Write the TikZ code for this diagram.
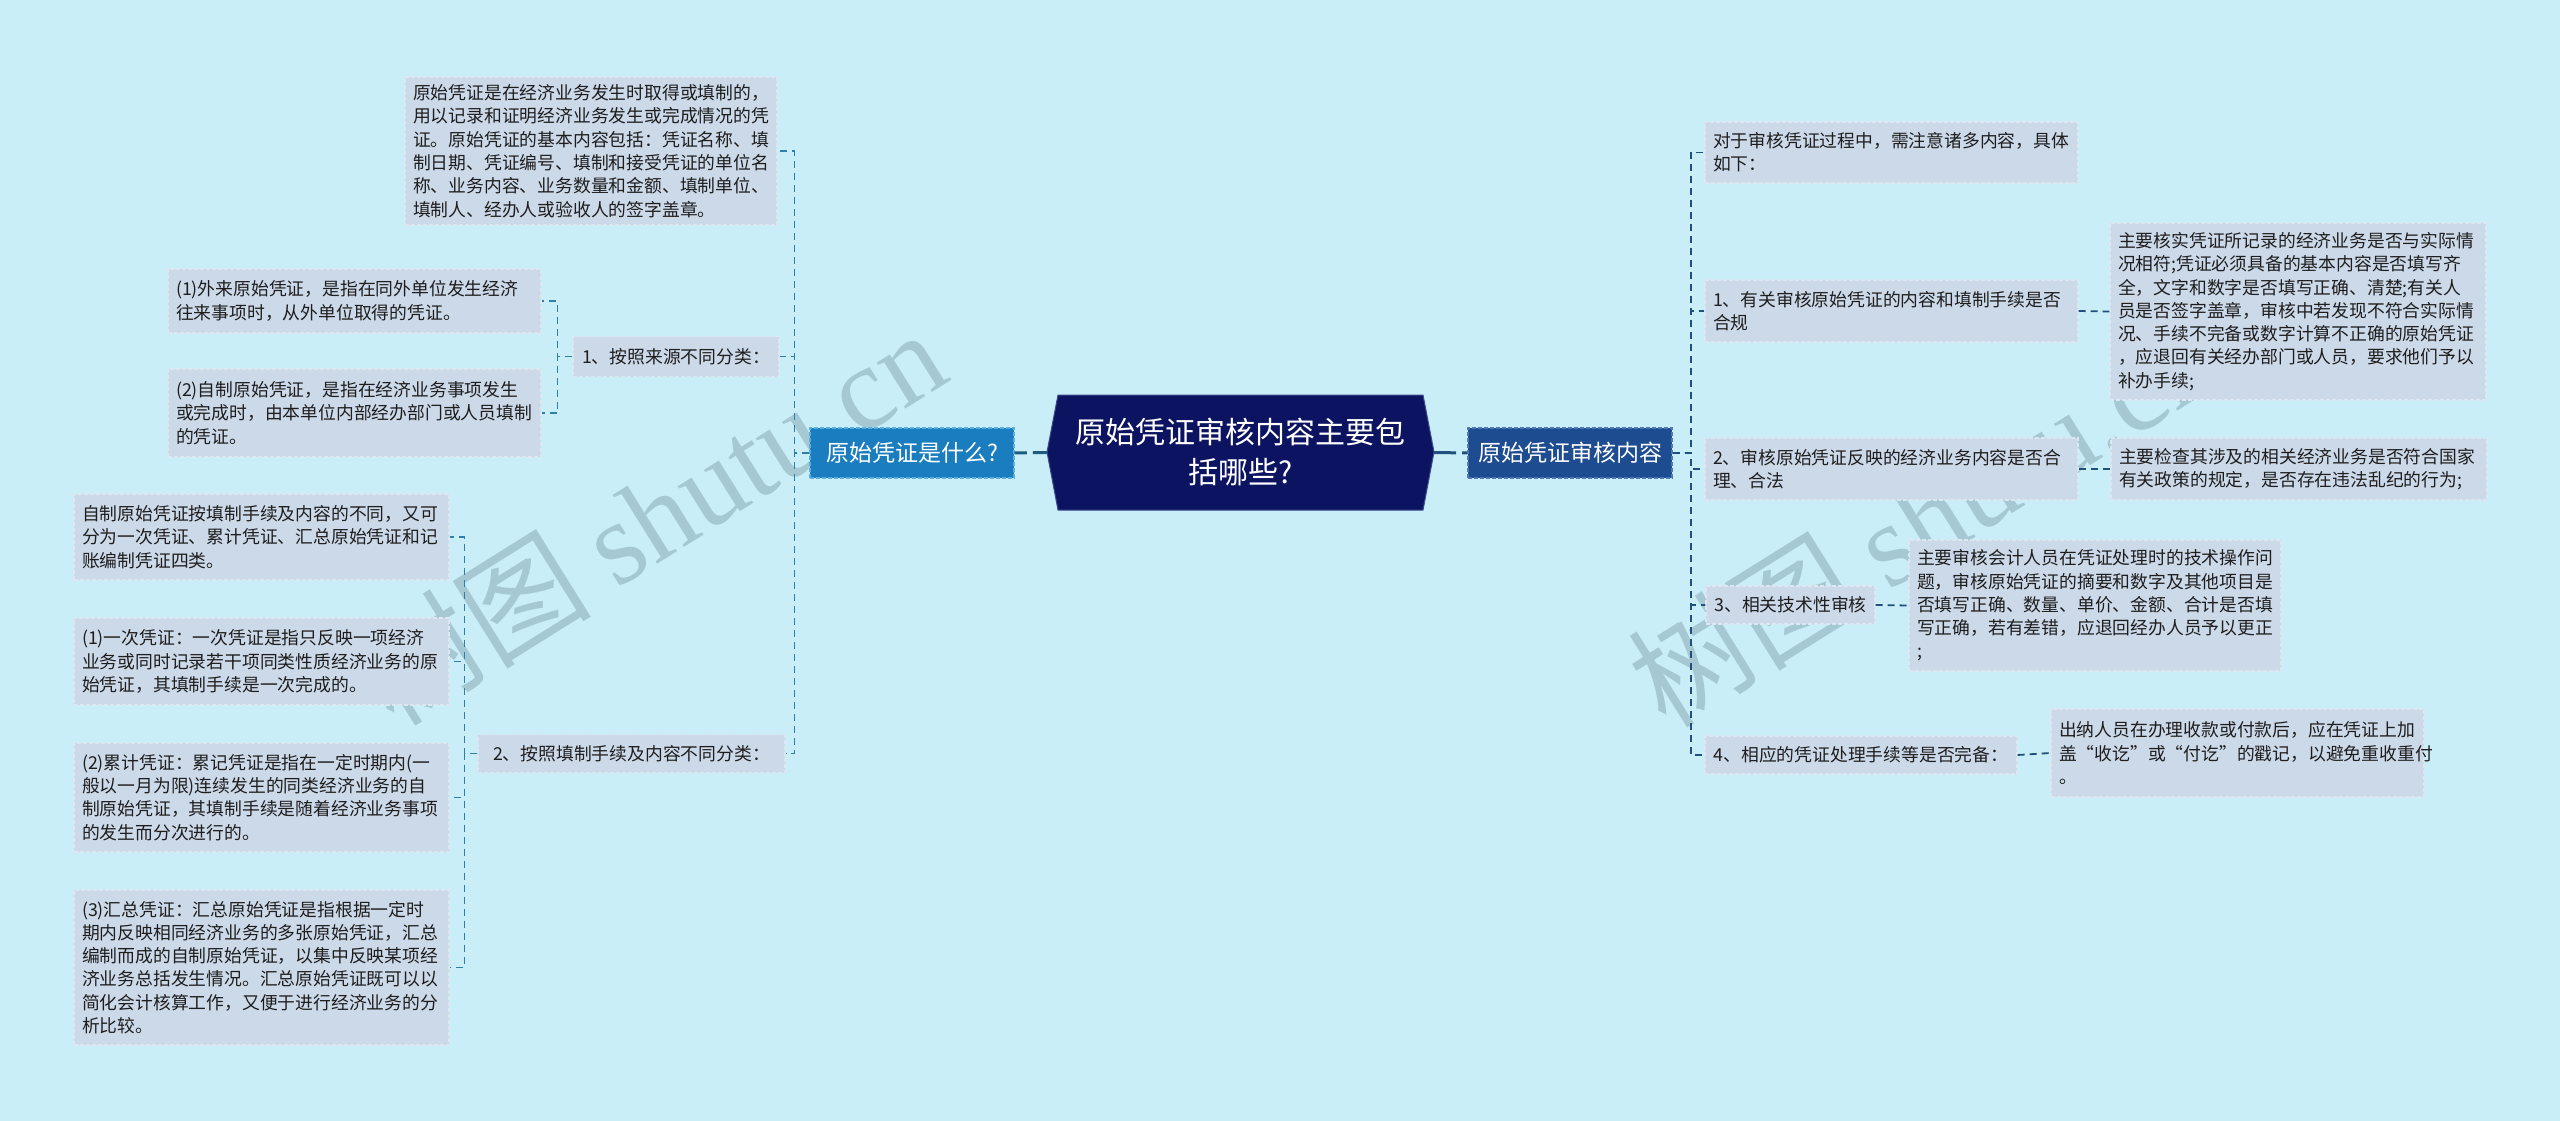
\documentclass[tikz,border=0pt]{standalone}
\usepackage{fontspec}
\setmainfont{Noto Sans CJK SC}
\newfontfamily\wmlatin{Liberation Serif}
\definecolor{bgc}{HTML}{C9EEF7}
\definecolor{leaffill}{HTML}{CCD9E9}
\definecolor{leafdraw}{HTML}{DDE6F1}
\definecolor{centerfill}{HTML}{0C1461}
\definecolor{centerdraw}{HTML}{3B4B8C}
\definecolor{lmainfill}{HTML}{1A7DBF}
\definecolor{lmaindraw}{HTML}{5AAEE0}
\definecolor{rmainfill}{HTML}{1E4C91}
\definecolor{rmaindraw}{HTML}{4F78B5}
\definecolor{lline}{HTML}{2F7FA6}
\definecolor{rline}{HTML}{234F7C}
\definecolor{cline}{HTML}{1F5B7E}
\definecolor{txt}{HTML}{1E1E1E}
\definecolor{wm}{HTML}{6F8C96}
\begin{document}
\begin{tikzpicture}[x=1pt,y=-1pt,
  leafbox/.style={fill=leaffill, draw=leafdraw, dash pattern=on 4pt off 2pt, line width=1.2pt,
    inner sep=0pt, align=left, text=txt, font=\fontsize{17.8}{23.3}\selectfont},
  sz/.style n args={3}{minimum width=#1pt, minimum height=#2pt, text width=#3pt},
  lab/.style n args={2}{minimum width=#1pt, minimum height=#2pt},
  mainL/.style={fill=lmainfill, draw=lmaindraw, dash pattern=on 4pt off 2pt, line width=1.2pt,
    minimum width=204pt, minimum height=50pt, inner sep=0pt, text=white, font=\fontsize{23}{28}\selectfont},
  mainR/.style={fill=rmainfill, draw=rmaindraw, dash pattern=on 4pt off 2pt, line width=1.2pt,
    minimum width=204pt, minimum height=50pt, inner sep=0pt, text=white, font=\fontsize{23}{28}\selectfont},
  lconn/.style={draw=lline, line width=1.8pt, dash pattern=on 7pt off 5pt},
  rconn/.style={draw=rline, line width=1.8pt, dash pattern=on 7pt off 5pt},
  cconnL/.style={draw=cline, line width=3pt, dash pattern=on 14pt off 6pt},
  cconnR/.style={draw=rline, line width=3pt, dash pattern=on 22pt off 6pt},
  wmark/.style={text=wm, opacity=0.38, rotate=32, inner sep=0pt}
]
\useasboundingbox (0,0) rectangle (2560,1121);
\fill[bgc] (0,0) rectangle (2560,1121);

% watermarks
\node[wmark] (wm1) at (650,516) {\fontsize{118}{118}\selectfont 树图 \wmlatin shutu.cn};
\node[wmark] (wm2) at (1922,518) {\fontsize{118}{118}\selectfont 树图 \wmlatin shutu.cn};

% centre
\fill[centerfill, draw=centerdraw, line width=1pt] (1047,452) -- (1058,395) -- (1423,395) -- (1434,452) -- (1423,510) -- (1058,510) -- cycle;
\node[font=\fontsize{30}{40}\selectfont, text=white, align=center, minimum width=387pt, minimum height=115pt, inner sep=0pt] (c) at (1240.5,452.5) {原始凭证审核内容主要包\\括哪些?};

\node[mainL] (L) at (912,453) {原始凭证是什么?};
\node[mainR] (R) at (1570,453) {原始凭证审核内容};

% left tree
\node[leafbox, sz={372}{148}{356}] (t1) at (591,151) {原始凭证是在经济业务发生时取得或填制的，\\用以记录和证明经济业务发生或完成情况的凭\\证。原始凭证的基本内容包括：凭证名称、填\\制日期、凭证编号、填制和接受凭证的单位名\\称、业务内容、业务数量和金额、填制单位、\\填制人、经办人或验收人的签字盖章。};
\node[leafbox, lab={206}{40}] (l1) at (676,356.5) {1、按照来源不同分类：};
\node[leafbox, sz={373}{64}{357}] (l1a) at (354.5,301) {(1)外来原始凭证，是指在同外单位发生经济\\往来事项时，从外单位取得的凭证。};
\node[leafbox, sz={373}{88}{357}] (l1b) at (354.5,413) {(2)自制原始凭证，是指在经济业务事项发生\\或完成时，由本单位内部经办部门或人员填制\\的凭证。};
\node[leafbox, lab={307}{38}] (l2) at (631.5,753.5) {2、按照填制手续及内容不同分类：};
\node[leafbox, sz={375}{86}{359}] (l2a) at (261.5,537) {自制原始凭证按填制手续及内容的不同，又可\\分为一次凭证、累计凭证、汇总原始凭证和记\\账编制凭证四类。};
\node[leafbox, sz={375}{87}{359}] (l2b) at (261.5,661.5) {(1)一次凭证：一次凭证是指只反映一项经济\\业务或同时记录若干项同类性质经济业务的原\\始凭证，其填制手续是一次完成的。};
\node[leafbox, sz={375}{109}{359}] (l2c) at (261.5,797.5) {(2)累计凭证：累记凭证是指在一定时期内(一\\般以一月为限)连续发生的同类经济业务的自\\制原始凭证，其填制手续是随着经济业务事项\\的发生而分次进行的。};
\node[leafbox, sz={375}{155}{359}] (l2d) at (261.5,967.5) {(3)汇总凭证：汇总原始凭证是指根据一定时\\期内反映相同经济业务的多张原始凭证，汇总\\编制而成的自制原始凭证，以集中反映某项经\\济业务总括发生情况。汇总原始凭证既可以以\\简化会计核算工作，又便于进行经济业务的分\\析比较。};

% right tree
\node[leafbox, sz={373}{61}{357}] (r0) at (1891.5,152.5) {对于审核凭证过程中，需注意诸多内容，具体\\如下：};
\node[leafbox, sz={373}{62}{357}] (r1) at (1891.5,311) {1、有关审核原始凭证的内容和填制手续是否\\合规};
\node[leafbox, sz={376}{177}{360}] (r1c) at (2298,311.5) {主要核实凭证所记录的经济业务是否与实际情\\况相符;凭证必须具备的基本内容是否填写齐\\全，文字和数字是否填写正确、清楚;有关人\\员是否签字盖章，审核中若发现不符合实际情\\况、手续不完备或数字计算不正确的原始凭证\\，应退回有关经办部门或人员，要求他们予以\\补办手续;};
\node[leafbox, sz={373}{62}{357}] (r2) at (1891.5,469) {2、审核原始凭证反映的经济业务内容是否合\\理、合法};
\node[leafbox, sz={376}{62}{360}] (r2c) at (2299,469) {主要检查其涉及的相关经济业务是否符合国家\\有关政策的规定，是否存在违法乱纪的行为;};
\node[leafbox, lab={169}{38}] (r3) at (1790.5,605) {3、相关技术性审核};
\node[leafbox, sz={372}{131}{356}] (r3c) at (2095,605.5) {主要审核会计人员在凭证处理时的技术操作问\\题，审核原始凭证的摘要和数字及其他项目是\\否填写正确、数量、单价、金额、合计是否填\\写正确，若有差错，应退回经办人员予以更正\\;};
\node[leafbox, lab={312}{38}] (r4) at (1861,755) {4、相应的凭证处理手续等是否完备：};
\node[leafbox, sz={373}{88}{357}] (r4c) at (2237.5,753) {出纳人员在办理收款或付款后，应在凭证上加\\盖“收讫”或“付讫”的戳记，以避免重收重付\\。};

% connectors
\draw[cconnL] (c.west) -- (L.east);
\draw[cconnR] (c.east) -- (R.west);

\draw[lconn] (L.west) -- ++(-15,0) |- (t1.east);
\draw[lconn] (L.west) -- ++(-15,0) |- (l1.east);
\draw[lconn] (L.west) -- ++(-15,0) |- (l2.east);
\draw[lconn] (l1.west) -- ++(-15,0) |- (l1a.east);
\draw[lconn] (l1.west) -- ++(-15,0) |- (l1b.east);
\draw[lconn] (l2.west) -- ++(-13,0) |- (l2a.east);
\draw[lconn] (l2.west) -- ++(-13,0) |- (l2b.east);
\draw[lconn] (l2.west) -- ++(-13,0) |- (l2c.east);
\draw[lconn] (l2.west) -- ++(-13,0) |- (l2d.east);

\draw[rconn] (R.east) -- ++(18,0) |- (r0.west);
\draw[rconn] (R.east) -- ++(18,0) |- (r1.west);
\draw[rconn] (R.east) -- ++(18,0) |- (r2.west);
\draw[rconn] (R.east) -- ++(18,0) |- (r3.west);
\draw[rconn] (R.east) -- ++(18,0) |- (r4.west);
\draw[rconn] (r1.east) -- (r1c.west);
\draw[rconn] (r2.east) -- (r2c.west);
\draw[rconn] (r3.east) -- (r3c.west);
\draw[rconn] (r4.east) -- (r4c.west);
\end{tikzpicture}
\end{document}
